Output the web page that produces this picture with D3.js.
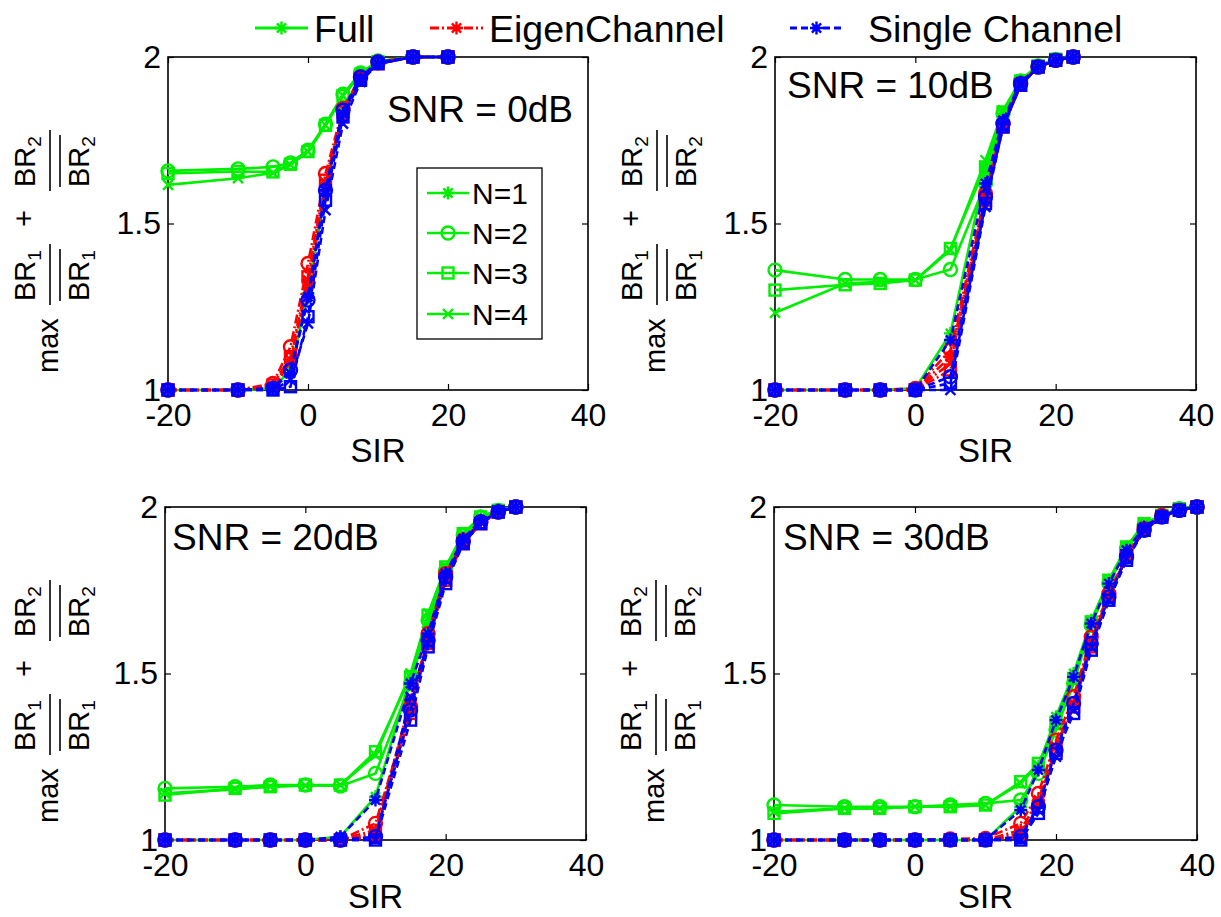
<!DOCTYPE html>
<html><head><meta charset="utf-8">
<script src="https://cdn.jsdelivr.net/npm/d3@7"></script>
<style>
body{margin:0;background:#fff}
svg{display:block}
text{font-family:"Liberation Sans",Arial,Helvetica,sans-serif;fill:#000}
</style>
</head><body>
<svg id="chart" width="1221" height="917"></svg>
<script>
// ---------------- data ----------------
const methods = ["Full", "EigenChannel", "Single Channel"];
const nLabels = ["N=1", "N=2", "N=3", "N=4"];
const snrTitles = ["SNR = 0dB", "SNR = 10dB", "SNR = 20dB", "SNR = 30dB"];
const xTicks = [-20, 0, 20, 40];
const xTickLabels = ["-20", "0", "20", "40"];
const yTicks = [1, 1.5, 2];
const yTickLabels = ["1", "1.5", "2"];
const xLabel = "SIR";

// SNR = 0 dB
const sirSNR0 = [-20, -10, -5, -2.5, 0, 2.5, 5, 7.5, 10, 15, 20];
const fullSNR0 = [
  [1, 1, 1.005, 1.06, 1.29, 1.6, 1.84, 1.94, 1.985, 2, 2],
  [1.658, 1.664, 1.67, 1.682, 1.72, 1.798, 1.888, 1.952, 1.988, 2, 2],
  [1.65, 1.656, 1.655, 1.678, 1.716, 1.795, 1.884, 1.948, 1.986, 2, 2],
  [1.616, 1.636, 1.652, 1.676, 1.716, 1.795, 1.884, 1.948, 1.986, 2, 2]
];
const eigenSNR0 = [
  [1, 1, 1.01, 1.08, 1.33, 1.62, 1.83, 1.93, 1.98, 2, 2],
  [1, 1, 1.02, 1.13, 1.38, 1.65, 1.845, 1.94, 1.985, 2, 2],
  [1, 1, 1.015, 1.1, 1.34, 1.63, 1.835, 1.935, 1.98, 2, 2],
  [1, 1, 1.01, 1.09, 1.32, 1.61, 1.825, 1.93, 1.98, 2, 2]
];
const singleSNR0 = [
  [1, 1, 1.005, 1.05, 1.28, 1.6, 1.83, 1.935, 1.98, 2, 2],
  [1, 1, 1.005, 1.06, 1.27, 1.6, 1.84, 1.94, 1.985, 2, 2],
  [1, 1, 1, 1.01, 1.22, 1.57, 1.82, 1.93, 1.98, 2, 2],
  [1, 1, 1, 1.03, 1.2, 1.54, 1.8, 1.925, 1.98, 2, 2]
];

// SNR = 10 dB
const sirSNR10 = [-20, -10, -5, 0, 5, 10, 12.5, 15, 17.5, 20, 22.5];
const fullSNR10 = [
  [1, 1, 1, 1.005, 1.17, 1.66, 1.83, 1.93, 1.975, 1.99, 2],
  [1.36, 1.332, 1.332, 1.332, 1.362, 1.62, 1.83, 1.928, 1.973, 1.993, 2],
  [1.3, 1.316, 1.32, 1.33, 1.425, 1.67, 1.835, 1.928, 1.973, 1.993, 2],
  [1.232, 1.32, 1.325, 1.33, 1.42, 1.69, 1.84, 1.93, 1.975, 1.993, 2]
];
const eigenSNR10 = [
  [1, 1, 1, 1, 1.1, 1.58, 1.8, 1.92, 1.97, 1.99, 2],
  [1, 1, 1, 1.005, 1.12, 1.59, 1.8, 1.92, 1.97, 1.99, 2],
  [1, 1, 1, 1, 1.06, 1.57, 1.79, 1.915, 1.97, 1.99, 2],
  [1, 1, 1, 1, 1.08, 1.58, 1.8, 1.92, 1.97, 1.99, 2]
];
const singleSNR10 = [
  [1, 1, 1, 1, 1.15, 1.62, 1.81, 1.925, 1.97, 1.99, 2],
  [1, 1, 1, 1, 1.04, 1.58, 1.8, 1.92, 1.97, 1.99, 2],
  [1, 1, 1, 1, 1.02, 1.56, 1.79, 1.915, 1.97, 1.99, 2],
  [1, 1, 1, 1, 1.0, 1.55, 1.79, 1.915, 1.97, 1.99, 2]
];

// SNR = 20 dB
const sirSNR20 = [-20, -10, -5, 0, 5, 10, 15, 17.5, 20, 22.5, 25, 27.5, 30];
const fullSNR20 = [
  [1, 1, 1, 1, 1.01, 1.13, 1.49, 1.64, 1.81, 1.91, 1.965, 1.99, 2],
  [1.155, 1.16, 1.165, 1.165, 1.162, 1.2, 1.47, 1.66, 1.81, 1.915, 1.97, 1.99, 2],
  [1.135, 1.155, 1.16, 1.165, 1.165, 1.265, 1.49, 1.675, 1.82, 1.92, 1.97, 1.99, 2],
  [1.14, 1.152, 1.16, 1.163, 1.165, 1.255, 1.5, 1.68, 1.82, 1.92, 1.97, 1.99, 2]
];
const eigenSNR20 = [
  [1, 1, 1, 1, 1, 1.03, 1.42, 1.6, 1.79, 1.9, 1.955, 1.985, 2],
  [1, 1, 1, 1, 1, 1.05, 1.4, 1.62, 1.8, 1.9, 1.955, 1.985, 2],
  [1, 1, 1, 1, 1, 1.02, 1.38, 1.59, 1.78, 1.89, 1.95, 1.985, 2],
  [1, 1, 1, 1, 1, 1.01, 1.4, 1.6, 1.79, 1.895, 1.955, 1.985, 2]
];
const singleSNR20 = [
  [1, 1, 1, 1, 1.01, 1.12, 1.47, 1.62, 1.8, 1.905, 1.96, 1.99, 2],
  [1, 1, 1, 1, 1, 1.01, 1.39, 1.6, 1.79, 1.895, 1.955, 1.985, 2],
  [1, 1, 1, 1, 1, 1, 1.36, 1.58, 1.77, 1.89, 1.95, 1.985, 2],
  [1, 1, 1, 1, 1, 1, 1.43, 1.59, 1.78, 1.89, 1.955, 1.985, 2]
];

// SNR = 30 dB
const sirSNR30 = [-20, -10, -5, 0, 5, 10, 15, 17.5, 20, 22.5, 25, 27.5, 30, 32.5, 35, 37.5, 40];
const fullSNR30 = [
  [1, 1, 1, 1, 1, 1, 1.1, 1.22, 1.37, 1.5, 1.66, 1.78, 1.88, 1.945, 1.975, 1.99, 2],
  [1.105, 1.1, 1.1, 1.1, 1.105, 1.11, 1.12, 1.2, 1.33, 1.47, 1.645, 1.77, 1.875, 1.945, 1.975, 1.995, 2],
  [1.08, 1.095, 1.095, 1.1, 1.1, 1.105, 1.175, 1.23, 1.35, 1.485, 1.655, 1.78, 1.88, 1.95, 1.975, 1.995, 2],
  [1.085, 1.095, 1.095, 1.1, 1.1, 1.105, 1.17, 1.225, 1.345, 1.48, 1.65, 1.775, 1.88, 1.95, 1.975, 1.995, 2]
];
const eigenSNR30 = [
  [1, 1, 1, 1, 1, 1, 1.03, 1.12, 1.28, 1.41, 1.59, 1.73, 1.85, 1.93, 1.97, 1.99, 2],
  [1, 1, 1, 1, 1.003, 1.005, 1.05, 1.14, 1.3, 1.43, 1.61, 1.74, 1.855, 1.935, 1.975, 1.99, 2],
  [1, 1, 1, 1, 1, 1, 1.02, 1.1, 1.27, 1.4, 1.58, 1.73, 1.85, 1.93, 1.97, 1.99, 2],
  [1, 1, 1, 1, 1, 1, 1.01, 1.11, 1.28, 1.41, 1.6, 1.735, 1.85, 1.93, 1.97, 1.99, 2]
];
const singleSNR30 = [
  [1, 1, 1, 1, 1, 1, 1.09, 1.21, 1.36, 1.49, 1.65, 1.77, 1.87, 1.94, 1.975, 1.99, 2],
  [1, 1, 1, 1, 1, 1, 1.01, 1.1, 1.27, 1.41, 1.59, 1.73, 1.85, 1.93, 1.97, 1.99, 2],
  [1, 1, 1, 1, 1, 1, 1, 1.08, 1.26, 1.38, 1.57, 1.72, 1.84, 1.93, 1.97, 1.99, 2],
  [1, 1, 1, 1, 1, 1, 1, 1.09, 1.25, 1.39, 1.58, 1.72, 1.845, 1.93, 1.97, 1.99, 2]
];

// ---------------- drawing ----------------
const panelsData = [
  {sir: sirSNR0,  series: [fullSNR0,  eigenSNR0,  singleSNR0],  title: snrTitles[0]},
  {sir: sirSNR10, series: [fullSNR10, eigenSNR10, singleSNR10], title: snrTitles[1]},
  {sir: sirSNR20, series: [fullSNR20, eigenSNR20, singleSNR20], title: snrTitles[2]},
  {sir: sirSNR30, series: [fullSNR30, eigenSNR30, singleSNR30], title: snrTitles[3]}
];
const layout = [
  {left: 168, top: 57, w: 420, h: 333, titleX: 573, titleY: 122, titleAnchor: "end"},
  {left: 775, top: 57, w: 421, h: 333, titleX: 787, titleY: 98, titleAnchor: "start"},
  {left: 165, top: 507, w: 421, h: 333, titleX: 172, titleY: 550, titleAnchor: "start"},
  {left: 774, top: 507, w: 423, h: 333, titleX: 783, titleY: 550, titleAnchor: "start"}
];
const colors = ["#00ee00", "#ff0000", "#0000ff"];
const dashes = [null, "9,3,2,3", "7,4"];
const markerTypes = ["star", "circle", "square", "x"];

const svg = d3.select("#chart");
svg.append("rect").attr("width", 1221).attr("height", 917).attr("fill", "#fff");

function drawMarker(g, type, cx, cy, color) {
  const sw = 2.4;
  if (type === "circle") {
    g.append("circle").attr("cx", cx).attr("cy", cy).attr("r", 6.5)
      .attr("fill", "none").attr("stroke", color).attr("stroke-width", sw);
  } else if (type === "square") {
    g.append("rect").attr("x", cx - 5.5).attr("y", cy - 5.5).attr("width", 11).attr("height", 11)
      .attr("fill", "none").attr("stroke", color).attr("stroke-width", sw);
  } else if (type === "x") {
    const s = 5;
    g.append("path").attr("d", `M${cx - s},${cy - s}L${cx + s},${cy + s}M${cx - s},${cy + s}L${cx + s},${cy - s}`)
      .attr("stroke", color).attr("stroke-width", sw).attr("fill", "none");
  } else {
    const s = 6.5, d = 4.6;
    g.append("path").attr("d", `M${cx - s},${cy}L${cx + s},${cy}M${cx},${cy - s}L${cx},${cy + s}M${cx - d},${cy - d}L${cx + d},${cy + d}M${cx - d},${cy + d}L${cx + d},${cy - d}`)
      .attr("stroke", color).attr("stroke-width", sw).attr("fill", "none");
  }
}

function drawYLabel(xc, yc) {
  const g = svg.append("g").attr("transform", `translate(${xc},${yc}) rotate(-90)`);
  const fs = 29, sub = 19;
  g.append("text").attr("x", 0).attr("y", 58).attr("font-size", fs).text("max");
  function frac(x0, s) {
    const t1 = g.append("text").attr("x", x0).attr("y", 35).attr("font-size", fs);
    t1.append("tspan").text("BR");
    t1.append("tspan").attr("font-size", sub).attr("dy", 6).text(s);
    const t2 = g.append("text").attr("x", x0).attr("y", 89).attr("font-size", fs);
    t2.append("tspan").text("BR");
    t2.append("tspan").attr("font-size", sub).attr("dy", 6).text(s);
    g.append("line").attr("x1", x0 - 4).attr("x2", x0 + 57).attr("y1", 50).attr("y2", 50)
      .attr("stroke", "#000").attr("stroke-width", 1.6);
    g.append("line").attr("x1", x0).attr("x2", x0 + 52).attr("y1", 60).attr("y2", 60)
      .attr("stroke", "#000").attr("stroke-width", 1.6);
  }
  frac(72, "1");
  g.append("text").attr("x", 146).attr("y", 34).attr("font-size", fs).text("+");
  frac(186, "2");
}

panelsData.forEach((p, i) => {
  const L = layout[i];
  const g = svg.append("g").attr("transform", `translate(${L.left},${L.top})`);
  const x = d3.scaleLinear().domain([-20, 40]).range([0, L.w]);
  const y = d3.scaleLinear().domain([1, 2]).range([L.h, 0]);

  // axes
  const ax = (sel) => sel.call(s => s.selectAll(".domain").remove())
    .call(s => s.selectAll("line").attr("stroke", "#000").attr("stroke-width", 1.2));
  g.append("g").attr("transform", `translate(0,${L.h})`)
    .call(d3.axisBottom(x).tickValues(xTicks).tickFormat((d, k) => xTickLabels[k]).tickSize(-6).tickSizeOuter(0).tickPadding(13))
    .call(ax).call(s => s.selectAll("text").attr("font-size", 32).attr("font-family", null));
  g.append("g")
    .call(d3.axisTop(x).tickValues(xTicks).tickFormat("").tickSize(-6).tickSizeOuter(0)).call(ax);
  g.append("g")
    .call(d3.axisLeft(y).tickValues(yTicks).tickFormat((d, k) => yTickLabels[k]).tickSize(-6).tickSizeOuter(0).tickPadding(7))
    .call(ax).call(s => s.selectAll("text").attr("font-size", 32).attr("font-family", null));
  g.append("g").attr("transform", `translate(${L.w},0)`)
    .call(d3.axisRight(y).tickValues(yTicks).tickFormat("").tickSize(-6).tickSizeOuter(0)).call(ax);
  g.selectAll(".tick text").attr("fill", "#000");

  g.append("rect").attr("width", L.w).attr("height", L.h).attr("fill", "none")
    .attr("stroke", "#000").attr("stroke-width", 1.6);

  // series
  const line = d3.line().x(d => x(d[0])).y(d => y(d[1]));
  p.series.forEach((methodSeries, m) => {
    methodSeries.forEach((vals, n) => {
      const pts = p.sir.map((s, k) => [s, vals[k]]);
      g.append("path").datum(pts).attr("d", line).attr("fill", "none")
        .attr("stroke", colors[m]).attr("stroke-width", 2.6)
        .attr("stroke-dasharray", dashes[m]);
      const mg = g.append("g");
      pts.forEach(d => drawMarker(mg, markerTypes[n], x(d[0]), y(d[1]), colors[m]));
    });
  });

  // title
  svg.append("text").attr("x", L.titleX).attr("y", L.titleY).attr("font-size", 37)
    .attr("text-anchor", L.titleAnchor).text(p.title);
  // x label
  svg.append("text").attr("x", L.left + L.w / 2).attr("y", Math.min(L.top + L.h + 72, 908))
    .attr("font-size", 33).attr("text-anchor", "middle").text(xLabel);
  // y label
  drawYLabel(Math.max(L.left - 168, 0), L.top + 316);
});

// legend inside first panel (N)
{
  const lg = svg.append("g");
  lg.append("rect").attr("x", 417).attr("y", 168).attr("width", 125).attr("height", 171)
    .attr("fill", "#fff").attr("stroke", "#000").attr("stroke-width", 1.3);
  const ys = [193, 233, 273, 314];
  nLabels.forEach((lab, n) => {
    lg.append("line").attr("x1", 427).attr("x2", 469).attr("y1", ys[n]).attr("y2", ys[n])
      .attr("stroke", colors[0]).attr("stroke-width", 2.4);
    drawMarker(lg, markerTypes[n], 448, ys[n], colors[0]);
    lg.append("text").attr("x", 472).attr("y", ys[n] + 11).attr("font-size", 30).text(lab);
  });
}

// top legend (methods)
{
  const lg = svg.append("g");
  const items = [
    {x1: 255, x2: 308, tx: 314},
    {x1: 430, x2: 483, tx: 489},
    {x1: 790, x2: 843, tx: 868}
  ];
  methods.forEach((name, m) => {
    const it = items[m];
    lg.append("line").attr("x1", it.x1).attr("x2", it.x2).attr("y1", 28).attr("y2", 28)
      .attr("stroke", colors[m]).attr("stroke-width", 2.8).attr("stroke-dasharray", dashes[m]);
    drawMarker(lg, "star", (it.x1 + it.x2) / 2, 28, colors[m]);
    lg.append("text").attr("x", it.tx).attr("y", 42).attr("font-size", 37.5).text(name);
  });
}
</script>
</body></html>
